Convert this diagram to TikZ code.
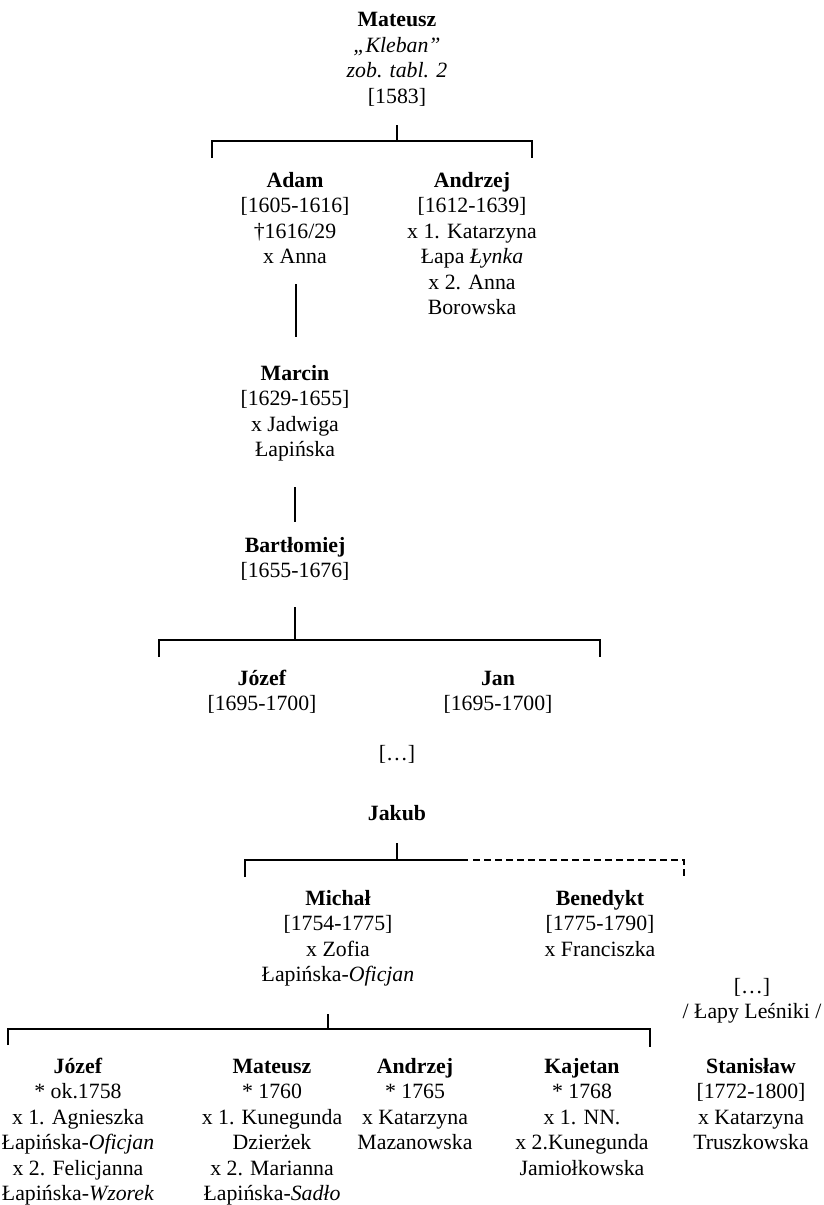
\documentclass[tikz,border=0pt]{standalone}
\usepackage{fontspec}
\setmainfont{Liberation Serif}
\begin{document}
\begin{tikzpicture}[x=0.5pt,y=-0.5pt,
  person/.style={align=center, anchor=north, inner sep=0pt, font=\fontsize{10.9}{12.75}\selectfont},
  link/.style={line width=0.8pt},
  dlink/.style={line width=0.8pt, dash pattern=on 3.5pt off 2pt}]
\fill[white] (0,0) rectangle (824,1205);
\useasboundingbox (0,0) rectangle (824,1205);

% persons
\node[person] (mateusz) at (397,8.5) {\strut\textbf{Mateusz}\\\textit{„Kleban”}\\\textit{zob. tabl. 2}\\{[1583]}};
\node[person] (adam) at (295,169) {\strut\textbf{Adam}\\{[1605-1616]}\\†1616/29\\x Anna};
\node[person] (andrzej) at (472,169) {\strut\textbf{Andrzej}\\{[1612-1639]}\\x 1. Katarzyna\\Łapa \textit{Łynka}\\x 2. Anna\\Borowska};
\node[person] (marcin) at (295,362) {\strut\textbf{Marcin}\\{[1629-1655]}\\x Jadwiga\\Łapińska};
\node[person] (bart) at (295,534) {\strut\textbf{Bartłomiej}\\{[1655-1676]}};
\node[person] (jozefA) at (262,667) {\strut\textbf{Józef}\\{[1695-1700]}};
\node[person] (jan) at (498,667) {\strut\textbf{Jan}\\{[1695-1700]}};
\node[person] (gapA) at (397,742) {\strut[…]};
\node[person] (jakub) at (397,802) {\strut\textbf{Jakub}};
\node[person] (michal) at (338,887) {\strut\textbf{Michał}\\{[1754-1775]}\\x Zofia\\Łapińska-\textit{Oficjan}};
\node[person] (benedykt) at (600,887) {\strut\textbf{Benedykt}\\{[1775-1790]}\\x Franciszka};
\node[person] (gapB) at (752,975) {\strut[…]\\/ Łapy Leśniki /};
\node[person] (jozefB) at (78,1055) {\strut\textbf{Józef}\\{*} ok.1758\\x 1. Agnieszka\\Łapińska-\textit{Oficjan}\\x 2. Felicjanna\\Łapińska-\textit{Wzorek}};
\node[person] (mateuszB) at (272,1055) {\strut\textbf{Mateusz}\\{*} 1760\\x 1. Kunegunda\\Dzierżek\\x 2. Marianna\\Łapińska-\textit{Sadło}};
\node[person] (andrzejB) at (415,1055) {\strut\textbf{Andrzej}\\{*} 1765\\x Katarzyna\\Mazanowska};
\node[person] (kajetan) at (582,1055) {\strut\textbf{Kajetan}\\{*} 1768\\x 1. NN.\\x 2.Kunegunda\\Jamiołkowska};
\node[person] (stanislaw) at (751,1055) {\strut\textbf{Stanisław}\\{[1772-1800]}\\x Katarzyna\\Truszkowska};

% connector points
\coordinate (matS) at (397,125);   \coordinate (matJ) at (397,141);
\coordinate (brAL) at (212,141);   \coordinate (brALd) at (212,158);
\coordinate (brAR) at (532,141);   \coordinate (brARd) at (532,158);
\coordinate (adamS) at (296,284);  \coordinate (marcinN) at (296,337);
\coordinate (marcinS) at (295,487); \coordinate (bartN) at (295,522);
\coordinate (bartS) at (295,607);  \coordinate (bartJ) at (295,640);
\coordinate (brBL) at (159,640);   \coordinate (brBLd) at (159,657);
\coordinate (brBR) at (600,640);   \coordinate (brBRd) at (600,657);
\coordinate (jakS) at (397,843);   \coordinate (jakJ) at (397,860);
\coordinate (brCL) at (245,860);   \coordinate (brCLd) at (245,877);
\coordinate (brCM) at (468,860);   \coordinate (brCD) at (473,860);
\coordinate (brCR) at (684,860);   \coordinate (brCRd) at (684,877);
\coordinate (micS) at (328,1014);  \coordinate (micJ) at (328,1029);
\coordinate (brDL) at (8,1029);    \coordinate (brDLd) at (8,1045);
\coordinate (brDR) at (650,1029);  \coordinate (brDRd) at (650,1047);

% connectors
\draw[link] (matS) -- (matJ);
\draw[link] (brALd) -- (brAL) -- (brAR) -- (brARd);
\draw[link] (adamS) -- (marcinN);
\draw[link] (marcinS) -- (bartN);
\draw[link] (bartS) -- (bartJ);
\draw[link] (brBLd) -- (brBL) -- (brBR) -- (brBRd);
\draw[link] (jakS) -- (jakJ);
\draw[link] (brCLd) -- (brCL) -- (brCM);
\draw[dlink] (brCD) -- (brCR) -- (brCRd);
\draw[link] (micS) -- (micJ);
\draw[link] (brDLd) -- (brDL) -- (brDR) -- (brDRd);
\end{tikzpicture}
\end{document}
